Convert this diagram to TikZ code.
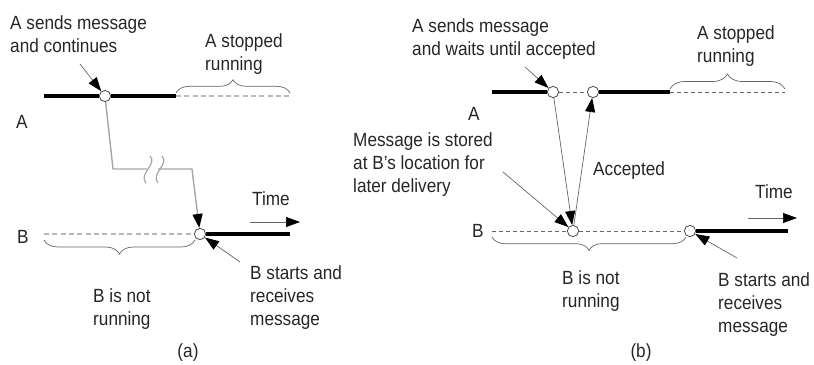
\documentclass[tikz,border=0pt]{standalone}
\usepackage{fontspec}
\setmainfont[FakeStretch=0.9]{Liberation Sans}
\usetikzlibrary{arrows.meta, decorations.pathreplacing}
\tikzset{
x=0.03cm, y=-0.03cm, % one unit is one pixel of the sketch, y runs down
>={Triangle[length=0.42cm, width=0.3cm, color=black]}, % black filled arrow heads
every node/.style={font=\fontsize{16.3}{19.5}\selectfont, text=black!85}, % sans serif text
note/.style={align=left, anchor=base west, inner sep=0pt}, % text placed at its last baseline
event/.style={circle, draw=black!70, fill=white, line width=0.7pt, minimum size=0.34cm, inner sep=0pt}, % message leaves or arrives
running/.style={line width=0.13cm, black}, % process is running
idle/.style={dash pattern=on 0.15cm off 0.1cm, gray!55, line width=1.3pt}, % process is not running
idle thin/.style={dash pattern=on 0.12cm off 0.09cm, black!60, line width=0.6pt},
msg/.style={gray!70, line width=1.2pt}, % message path in (a)
pointer/.style={->, black!60, line width=0.6pt}, % thin arrows
brace/.style={decorate, decoration={brace, amplitude=#1}, black!60, line width=0.6pt}, % curly braces
}
\begin{document}
\begin{tikzpicture}
\useasboundingbox (0,0) rectangle (814,365);
% (a)
\node[event] (sa) at (105,96) {};
\node[event] (rb) at (200,234) {};
\coordinate (a0) at (44,96);
\coordinate (a1) at (176,96);
\coordinate (a2) at (290,96);
\coordinate (b0) at (44,234);
\coordinate (b1) at (290,234);
\coordinate (cut1) at (147,169);
\coordinate (cut2) at (158,169);
\coordinate (pa) at (80,64);
\coordinate (pb) at (240,262);
\coordinate (t0) at (250,222);
\coordinate (t1) at (300,222);

\draw[running] (a0) -- (sa) (sa) -- (a1);
\draw[idle] (a1) -- (a2);
\draw[idle] (b0) -- (rb);
\draw[running] (rb) -- (b1);
\draw[brace=0.4cm] (176,93) -- (290,93);
\draw[brace=0.42cm, decoration={mirror}] (44,240) -- (195,240);
\draw[msg] (sa) -- (113,169) -- (cut1);
\draw[msg, ->] (cut2) -- (192,169) -- (rb);
\draw[msg, line width=1pt] (150,156) .. controls (158,164) and (138,174) .. (146,183);
\draw[msg, line width=1pt] (162,156) .. controls (170,164) and (150,174) .. (158,183);

\draw (pa) edge[pointer] (sa)
      (pb) edge[pointer] (rb)
      (t0) edge[pointer] (t1);

\node[note] (senda) at (10,52) {A sends message\\and continues};
\node[note] (stopa) at (205,70) {A stopped\\running};
\node[note] (la) at (16,128) {A};
\node[note] (lb) at (17,243) {B};
\node[note] (timea) at (252,205) {Time};
\node[note] (idlea) at (93,325) {B is not\\running};
\node[note] (starta) at (250,325) {B starts and\\receives\\message};
\node[anchor=base] (capa) at (188,357) {(a)};

% (b)
\node[event] (sA) at (553,92) {};
\node[event] (acc) at (593,92) {};
\node[event] (st) at (573,231) {};
\node[event] (rB) at (690,231) {};
\coordinate (A0) at (492,92);
\coordinate (A1) at (670,92);
\coordinate (A2) at (785,92);
\coordinate (B0) at (492,231);
\coordinate (B1) at (788,231);
\coordinate (pA) at (525,67);
\coordinate (pS) at (503,172);
\coordinate (pB) at (737,258);
\coordinate (T0) at (748,218);
\coordinate (T1) at (797,218);

\draw[running] (A0) -- (sA) (acc) -- (A1);
\draw[idle thin] (sA) -- (acc) (A1) -- (A2);
\draw[idle thin] (B0) -- (st) (st) -- (rB);
\draw[running] (rB) -- (B1);
\draw[brace=0.45cm] (670,89) -- (785,89);
\draw[brace=0.4cm, decoration={mirror}] (492,237) -- (686,237);

\draw (sA) edge[pointer] (st)
      (st) edge[pointer] (acc)
      (pA) edge[pointer] (sA)
      (pS) edge[pointer] (st)
      (pB) edge[pointer] (rB)
      (T0) edge[pointer] (T1);

\node[note] (sendb) at (412,55) {A sends message\\and waits until accepted};
\node[note] (stopb) at (697,62) {A stopped\\running};
\node[note] (lA) at (468,120) {A};
\node[note] (store) at (353,192) {Message is stored\\at B's location for\\later delivery};
\node[note] (accl) at (593,175) {Accepted};
\node[note] (lB) at (472,237) {B};
\node[note] (timeb) at (755,198) {Time};
\node[note] (idleb) at (562,307) {B is not\\running};
\node[note] (startb) at (718,332) {B starts and\\receives\\message};
\node[anchor=base] (capb) at (641,357) {(b)};
\end{tikzpicture}
\end{document}
